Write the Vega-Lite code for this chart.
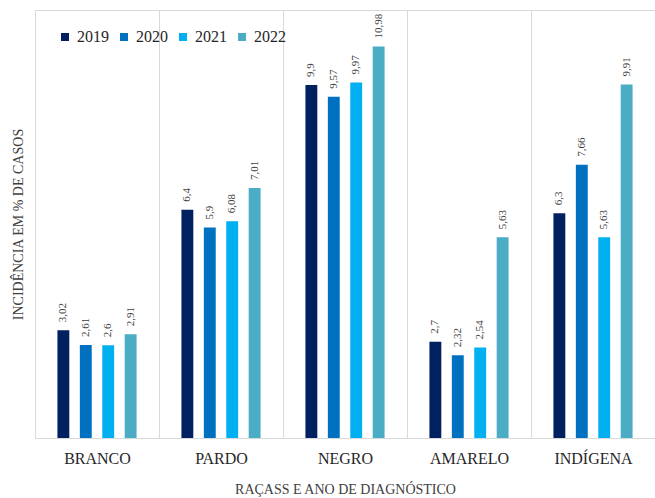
{
  "$schema": "https://vega.github.io/schema/vega-lite/v6.json",
  "width": 620,
  "height": 428,
  "autosize": {"type": "none"},
  "padding": {"left": 35, "top": 10, "right": 0, "bottom": 60},
  "background": "white",
  "config": {
    "view": {"stroke": "#d9d9d9", "strokeWidth": 1},
    "font": "Liberation Serif",
    "locale": {"number": {"decimal": ",", "thousands": ".", "grouping": [3], "currency": ["R$", ""]}}
  },
  "data": {
    "values": [
      {"raca": "BRANCO", "ano": "2019", "valor": 3.02},
      {"raca": "BRANCO", "ano": "2020", "valor": 2.61},
      {"raca": "BRANCO", "ano": "2021", "valor": 2.6},
      {"raca": "BRANCO", "ano": "2022", "valor": 2.91},
      {"raca": "PARDO", "ano": "2019", "valor": 6.4},
      {"raca": "PARDO", "ano": "2020", "valor": 5.9},
      {"raca": "PARDO", "ano": "2021", "valor": 6.08},
      {"raca": "PARDO", "ano": "2022", "valor": 7.01},
      {"raca": "NEGRO", "ano": "2019", "valor": 9.9},
      {"raca": "NEGRO", "ano": "2020", "valor": 9.57},
      {"raca": "NEGRO", "ano": "2021", "valor": 9.97},
      {"raca": "NEGRO", "ano": "2022", "valor": 10.98},
      {"raca": "AMARELO", "ano": "2019", "valor": 2.7},
      {"raca": "AMARELO", "ano": "2020", "valor": 2.32},
      {"raca": "AMARELO", "ano": "2021", "valor": 2.54},
      {"raca": "AMARELO", "ano": "2022", "valor": 5.63},
      {"raca": "INDÍGENA", "ano": "2019", "valor": 6.3},
      {"raca": "INDÍGENA", "ano": "2020", "valor": 7.66},
      {"raca": "INDÍGENA", "ano": "2021", "valor": 5.63},
      {"raca": "INDÍGENA", "ano": "2022", "valor": 9.91}
    ]
  },
  "encoding": {
    "x": {
      "field": "raca",
      "type": "nominal",
      "sort": ["BRANCO", "PARDO", "NEGRO", "AMARELO", "INDÍGENA"],
      "scale": {"paddingInner": 0, "paddingOuter": 0},
      "axis": {
        "title": "RAÇASS E ANO DE DIAGNÓSTICO",
        "titleFont": "Liberation Serif",
        "titleFontSize": 14,
        "titleFontWeight": "normal",
        "titleColor": "#404040",
        "titlePadding": 16,
        "labelAngle": 0,
        "labelFont": "Liberation Serif",
        "labelFontSize": 16,
        "labelColor": "#262626",
        "labelPadding": 12,
        "ticks": false,
        "grid": true,
        "tickBand": "extent",
        "gridColor": "#d9d9d9",
        "domainColor": "#d9d9d9",
        "domainWidth": 1
      }
    },
    "xOffset": {
      "field": "ano",
      "type": "nominal",
      "scale": {"paddingInner": 0.47, "paddingOuter": 1.1}
    },
    "y": {
      "field": "valor",
      "type": "quantitative",
      "scale": {"domain": [0, 12], "nice": false},
      "axis": {
        "title": "INCIDÊNCIA EM % DE CASOS",
        "titleFont": "Liberation Serif",
        "titleFontSize": 14,
        "titleFontWeight": "normal",
        "titleColor": "#404040",
        "titlePadding": 10,
        "labels": false,
        "ticks": false,
        "domain": false,
        "grid": false
      }
    }
  },
  "layer": [
    {
      "mark": {"type": "bar"},
      "encoding": {
        "color": {
          "field": "ano",
          "type": "nominal",
          "scale": {"domain": ["2019", "2020", "2021", "2022"], "range": ["#002060", "#0070C0", "#00B0F0", "#4BACC6"]},
          "legend": {
            "orient": "none",
            "legendX": 22,
            "legendY": 19,
            "direction": "horizontal",
            "title": null,
            "symbolType": "square",
            "symbolSize": 64,
            "symbolStrokeWidth": 0,
            "labelFont": "Liberation Serif",
            "labelFontSize": 16,
            "labelColor": "#262626",
            "columnPadding": 7,
            "labelOffset": 4
          }
        }
      }
    },
    {
      "mark": {"type": "text", "angle": 270, "align": "left", "baseline": "middle", "dx": 8, "fontSize": 11, "color": "#404040", "font": "Liberation Serif"},
      "encoding": {
        "text": {"field": "valor", "type": "quantitative", "format": "~g"}
      }
    }
  ]
}
